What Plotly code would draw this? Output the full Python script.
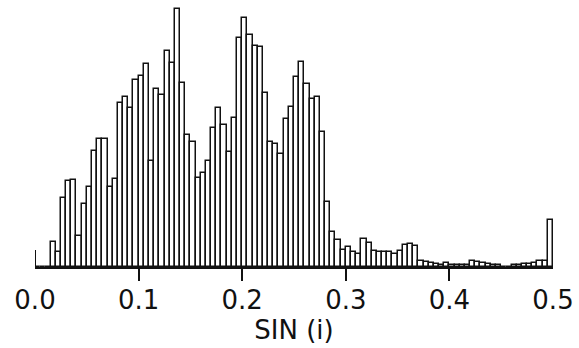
import numpy as np
import plotly.graph_objects as go

# Histogram of sin(i): 100 bins of width 0.005 over [0, 0.5]
bin_width = 0.005
bin_left = [round(k * bin_width, 3) for k in range(100)]
counts = [
    0, 0, 0, 25, 15, 69, 86, 87, 31, 63,
    80, 116, 128, 128, 80, 88, 164, 170, 159, 187,
    191, 203, 106, 178, 172, 216, 204, 258, 184, 132,
    125, 89, 94, 106, 139, 159, 142, 115, 149, 229,
    249, 232, 221, 220, 174, 125, 123, 113, 148, 160,
    190, 205, 183, 168, 170, 135, 65, 35, 27, 17,
    20, 15, 13, 28, 24, 16, 15, 15, 15, 13,
    16, 22, 23, 21, 6, 5, 4, 3, 2, 4,
    2, 2, 2, 2, 6, 5, 4, 3, 2, 2,
    0.5, 0.5, 2, 2, 3, 3, 4, 6, 6, 47,
]
tick_vals = [0.0, 0.1, 0.2, 0.3, 0.4, 0.5]
tick_text = ["0.0", "0.1", "0.2", "0.3", "0.4", "0.5"]
x_title = "SIN (i)"

centers = [b + bin_width / 2 for b in bin_left]

fig = go.Figure(
    go.Bar(
        x=centers,
        y=counts,
        width=bin_width,
        marker=dict(color="white", line=dict(color="#111111", width=1.5)),
        hoverinfo="skip",
    )
)

# short vertical stub at the origin
fig.add_shape(type="line", x0=0, x1=0, y0=0, y1=17, xref="x", yref="y",
              line=dict(color="#111111", width=2))

fig.update_layout(
    width=579,
    height=348,
    margin=dict(l=35, r=24, t=5, b=81),
    paper_bgcolor="white",
    plot_bgcolor="white",
    bargap=0,
    showlegend=False,
    font=dict(family="DejaVu Sans", color="#111111"),
)
fig.update_xaxes(
    range=[0, 0.5],
    tickvals=tick_vals,
    ticktext=tick_text,
    ticks="",
    showline=True,
    linecolor="#111111",
    linewidth=2,
    showgrid=False,
    zeroline=False,
    tickfont=dict(size=26),
    ticklabelstandoff=9,
    minor=dict(tickvals=[0.1, 0.2, 0.3, 0.4], ticks="outside", ticklen=12,
               tickwidth=2, tickcolor="#111111"),
    title=dict(text=x_title, font=dict(size=26), standoff=2),
)
fig.update_yaxes(
    range=[0, 262],
    visible=False,
    showgrid=False,
    zeroline=False,
)

fig.write_html("out.html")
